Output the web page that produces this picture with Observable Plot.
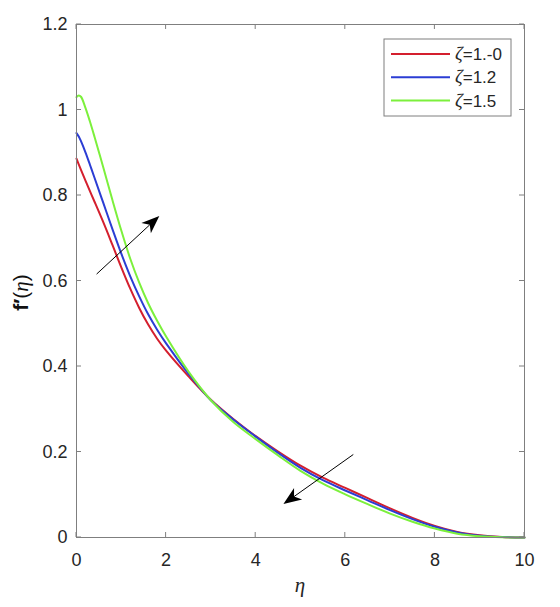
<!DOCTYPE html>
<html><head><meta charset="utf-8">
<script src="https://cdn.jsdelivr.net/npm/d3@7"></script>
<script src="https://cdn.jsdelivr.net/npm/@observablehq/plot@0.6"></script>
<style>body{margin:0;background:#fff} svg{display:block}</style>
</head><body><div id="chart"></div>
<script>
const eta = [0,0.05,0.1,0.2,0.3,0.4,0.6,0.8,1.0,1.2,1.4,1.6,1.8,2.0,2.5,3.0,3.5,4.0,4.5,5.0,5.5,6.0,6.5,7.0,7.5,8.0,8.5,9.0,9.5,10];
const red   = [0.886,0.873,0.860,0.835,0.810,0.786,0.737,0.685,0.632,0.582,0.537,0.498,0.465,0.437,0.377,0.322,0.277,0.237,0.201,0.168,0.140,0.116,0.092,0.068,0.046,0.027,0.013,0.005,0.001,0];
const blue  = [0.946,0.938,0.927,0.901,0.872,0.842,0.782,0.722,0.664,0.611,0.564,0.522,0.486,0.454,0.383,0.321,0.276,0.236,0.198,0.163,0.134,0.110,0.087,0.064,0.043,0.025,0.012,0.004,0.001,0];
const green = [1.030,1.034,1.031,1.005,0.973,0.938,0.865,0.790,0.718,0.652,0.596,0.548,0.507,0.470,0.388,0.321,0.270,0.230,0.192,0.156,0.126,0.101,0.078,0.056,0.037,0.021,0.009,0.003,0.0005,0];
const seriesNames = ["1.-0", "1.2", "1.5"];
const seriesColors = ["#d41f2e", "#2b3dd4", "#7cf03c"];
const xTicks = [0,2,4,6,8,10];
const yTicks = [0,0.2,0.4,0.6,0.8,1.0,1.2];
const arrows = [
  {x1: 0.46, y1: 0.615, x2: 1.86, y2: 0.751},
  {x1: 6.19, y1: 0.193, x2: 4.63, y2: 0.077}
];

const seriesValues = [red, blue, green];
const rows = [];
seriesValues.forEach((vals, s) => vals.forEach((v, i) => rows.push({eta: eta[i], f: v, s: seriesNames[s]})));

const frameColor = "#7f7f7f";
const textColor = "#262626";

function decorations(index, scales, values, dims) {
  const {x, y} = scales;
  const {width, height, marginLeft, marginRight, marginTop, marginBottom} = dims;
  const L = marginLeft, R = width - marginRight, T = marginTop, B = height - marginBottom;
  const g = d3.create("svg:g");
  const tl = 5;
  const tk = g.append("g").attr("stroke", frameColor).attr("stroke-width", 1);
  for (const t of xTicks) {
    const px = x(t);
    tk.append("line").attr("x1", px).attr("x2", px).attr("y1", B).attr("y2", B - tl);
    tk.append("line").attr("x1", px).attr("x2", px).attr("y1", T).attr("y2", T + tl);
  }
  for (const t of yTicks) {
    const py = y(t);
    tk.append("line").attr("y1", py).attr("y2", py).attr("x1", L).attr("x2", L + tl);
    tk.append("line").attr("y1", py).attr("y2", py).attr("x1", R).attr("x2", R - tl);
  }
  // arrows
  const ag = g.append("g");
  for (const a of arrows) {
    const p1 = [x(a.x1), y(a.y1)], p2 = [x(a.x2), y(a.y2)];
    const dx = p2[0] - p1[0], dy = p2[1] - p1[1], len = Math.hypot(dx, dy);
    const ux = dx / len, uy = dy / len, nx = -uy, ny = ux;
    const hl = 18, hw = 7, notch = 13;
    ag.append("line").attr("x1", p1[0]).attr("y1", p1[1])
      .attr("x2", p2[0] - ux * notch).attr("y2", p2[1] - uy * notch)
      .attr("stroke", "#000").attr("stroke-width", 1);
    const pts = [
      [p2[0], p2[1]],
      [p2[0] - ux * hl + nx * hw, p2[1] - uy * hl + ny * hw],
      [p2[0] - ux * notch, p2[1] - uy * notch],
      [p2[0] - ux * hl - nx * hw, p2[1] - uy * hl - ny * hw]
    ];
    ag.append("polygon").attr("points", pts.map(p => p.join(",")).join(" ")).attr("fill", "#000");
  }
  // legend
  const lw = 127, lh = 77;
  const lx = R - 13 - lw, ly = T + 15;
  const lg = g.append("g");
  lg.append("rect").attr("x", lx).attr("y", ly).attr("width", lw).attr("height", lh)
    .attr("fill", "#fff").attr("stroke", frameColor).attr("stroke-width", 1);
  seriesNames.forEach((name, i) => {
    const ry = ly + 15 + i * 23.3;
    lg.append("line").attr("x1", lx + 7).attr("x2", lx + 66).attr("y1", ry).attr("y2", ry)
      .attr("stroke", seriesColors[i]).attr("stroke-width", 2);
    const t = lg.append("text").attr("x", lx + 71).attr("y", ry + 6).attr("text-anchor", "start")
      .attr("fill", textColor).attr("font-size", 17).attr("font-family", "'Liberation Sans', Arial, sans-serif");
    t.append("tspan").attr("font-family", "'Liberation Serif', 'Times New Roman', serif").attr("font-style", "italic").attr("font-size", 19).text("ζ");
    t.append("tspan").text("=" + name);
  });
  // x label
  g.append("text").attr("x", (L + R) / 2).attr("y", B + 55).attr("text-anchor", "middle")
    .attr("fill", textColor).attr("font-family", "'Liberation Serif', 'Times New Roman', serif")
    .attr("font-style", "italic").attr("font-size", 21).text("η");
  // y label
  const yl = g.append("text").attr("transform", `translate(28,${(T + B) / 2 + 12}) rotate(-90)`)
    .attr("text-anchor", "middle").attr("fill", "#111").attr("font-size", 21)
    .attr("font-family", "'Liberation Sans', Arial, sans-serif");
  yl.append("tspan").attr("font-weight", "bold").text("f");
  yl.append("tspan").attr("font-weight", "bold").text("′");
  yl.append("tspan").text("(");
  yl.append("tspan").attr("font-family", "'Liberation Serif', 'Times New Roman', serif").attr("font-style", "italic").text("η");
  yl.append("tspan").text(")");
  return g.node();
}

const chart = Plot.plot({
  width: 560,
  height: 607,
  marginLeft: 76,
  marginRight: 36,
  marginTop: 24,
  marginBottom: 70,
  style: {fontFamily: "'Liberation Sans', Arial, sans-serif", fontSize: "18px", color: textColor, background: "#fff"},
  x: {domain: [0, 10]},
  y: {domain: [0, 1.2]},
  color: {domain: seriesNames, range: seriesColors},
  marks: [
    Plot.axisX({ticks: xTicks, tickSize: 0, tickPadding: 16, tickFormat: d => String(d), label: null, fontSize: 18}),
    Plot.axisY({ticks: yTicks, tickSize: 0, tickPadding: 9, tickFormat: d => String(+d.toFixed(1)), label: null, fontSize: 18}),
    Plot.line(rows, {x: "eta", y: "f", z: "s", stroke: "s", strokeWidth: 2, curve: "catmull-rom"}),
    Plot.frame({stroke: frameColor, strokeWidth: 1}),
    decorations
  ]
});
document.getElementById("chart").appendChild(chart);
</script>
</body></html>
